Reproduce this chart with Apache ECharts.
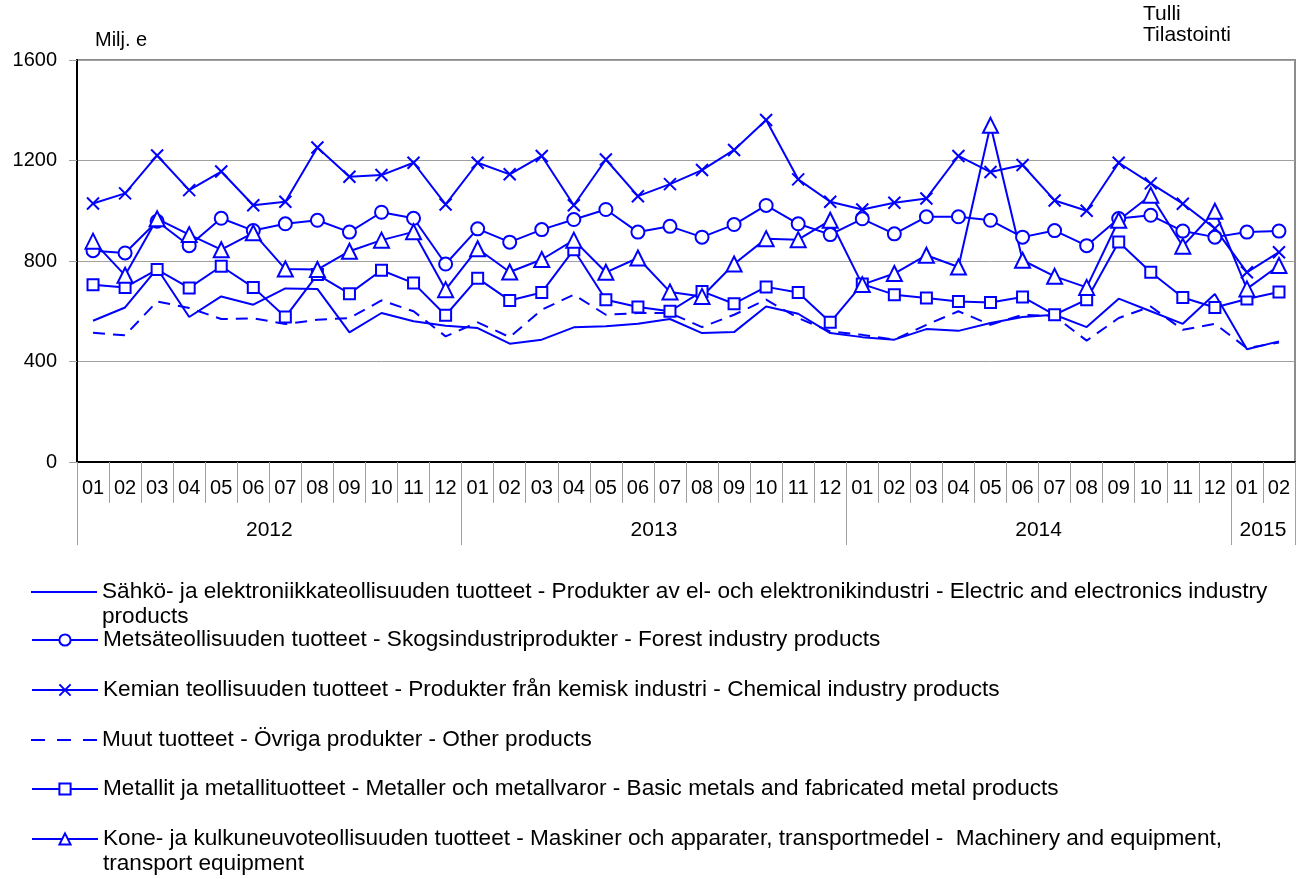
<!DOCTYPE html>
<html><head><meta charset="utf-8">
<script src="https://cdn.jsdelivr.net/npm/echarts@6/dist/echarts.min.js"></script>
<style>html,body{margin:0;padding:0;background:#fff}#c{width:1306px;height:879px}</style>
</head><body><div id="c"></div>
<script>
const months = ['01','02','03','04','05','06','07','08','09','10','11','12',
  '01','02','03','04','05','06','07','08','09','10','11','12',
  '01','02','03','04','05','06','07','08','09','10','11','12',
  '01','02'];
const years = ['2012','2013','2014','2015'];
const yearMonthCounts = [12, 12, 12, 2];
const yTicks = [0, 400, 800, 1200, 1600];

const seriesNames = [
  'Sähkö- ja elektroniikkateollisuuden tuotteet - Produkter av el- och elektronikindustri - Electric and electronics industry products',
  'Metsäteollisuuden tuotteet - Skogsindustriprodukter - Forest industry products',
  'Kemian teollisuuden tuotteet - Produkter från kemisk industri - Chemical industry products',
  'Muut tuotteet - Övriga produkter - Other products',
  'Metallit ja metallituotteet - Metaller och metallvaror - Basic metals and fabricated metal products',
  'Kone- ja kulkuneuvoteollisuuden tuotteet - Maskiner och apparater, transportmedel -  Machinery and equipment, transport equipment'
];

const electric  = [562, 615, 770, 577, 659, 626, 691, 689, 516, 593, 560, 542, 533, 471, 487, 536, 540, 550, 569, 513, 517, 619, 590, 513, 497, 487, 529, 522, 553, 577, 586, 537, 650, 600, 550, 669, 449, 480];
const forest    = [841, 832, 958, 861, 970, 921, 948, 962, 915, 994, 970, 788, 928, 875, 925, 965, 1005, 915, 938, 895, 945, 1021, 948, 905, 968, 908, 976, 976, 962, 895, 921, 861, 969, 982, 919, 895, 915, 919];
const chemical  = [1029, 1069, 1220, 1082, 1156, 1022, 1036, 1252, 1135, 1142, 1191, 1025, 1191, 1145, 1218, 1022, 1204, 1058, 1106, 1162, 1242, 1361, 1125, 1036, 1005, 1032, 1049, 1218, 1154, 1182, 1041, 1000, 1191, 1109, 1028, 930, 755, 835];
const other     = [514, 504, 639, 613, 569, 572, 549, 566, 573, 643, 600, 500, 556, 497, 606, 666, 586, 593, 593, 537, 586, 646, 573, 520, 506, 487, 546, 600, 546, 586, 580, 483, 573, 619, 526, 550, 453, 476];
const metals    = [705, 695, 766, 693, 779, 695, 577, 746, 670, 763, 712, 584, 731, 643, 675, 845, 646, 617, 600, 679, 630, 697, 675, 556, 708, 666, 653, 639, 635, 657, 586, 646, 876, 755, 655, 615, 649, 677];
const machinery = [879, 743, 968, 905, 845, 912, 768, 766, 839, 883, 916, 686, 849, 756, 806, 883, 755, 812, 677, 659, 788, 889, 885, 962, 706, 750, 823, 776, 1340, 803, 739, 695, 962, 1062, 859, 998, 689, 782];

const FONT = '"Liberation Sans", Arial, sans-serif';
const BLUE = '#0000ff';

// year axis: boundaries 0..N, labels at middle of each year span
const yearAxisData = new Array(months.length + 1).fill('');
const yearTickIdx = [0];
let acc = 0;
yearMonthCounts.forEach((n, k) => {
  yearAxisData[acc + Math.floor(n / 2)] = years[k];
  acc += n;
  yearTickIdx.push(acc);
});

const symbols = ['none', 'emptyCircle', 'path://M0,0L10,10M10,0L0,10', 'none', 'emptyRect', 'emptyTriangle'];
const symbolSizes = [0, 13, 12, 0, 11, 15];
const dataSets = [electric, forest, chemical, other, metals, machinery];
const legendCenters = [592, 640, 690, 740, 789, 839];
const wrapAt = ['electronics industry ', null, null, null, null, 'equipment, '];
const legendIcons = ['path://M0,0h66v2h-66z', null, null, 'path://M0,0h14v2h-14zM26,0h14v2h-14zM52,0h14v2h-14z', null, null];
const LH = 25;

const series = seriesNames.map((name, i) => ({
  name,
  type: 'line',
  data: dataSets[i],
  symbol: symbols[i],
  symbolSize: symbolSizes[i],
  showAllSymbol: true,
  showSymbol: symbols[i] !== 'none',
  color: BLUE,
  itemStyle: i === 2 ? { color: BLUE, borderColor: BLUE, borderWidth: 2 } : { color: BLUE, borderWidth: 1.6 },
  lineStyle: { color: BLUE, width: 2, type: i === 3 ? [12, 8] : 'solid' },
  animation: false,
  z: 3
}));

const legends = seriesNames.map((name, i) => {
  const lg = {
    data: [name],
    orient: 'vertical',
    left: 31,
    top: wrapAt[i] ? legendCenters[i] - 1.5 * LH : legendCenters[i] - LH / 2,
    padding: 0,
    itemWidth: 66,
    itemHeight: legendIcons[i] ? 2 : 14,
    itemGap: 0,
    selectedMode: false,
    formatter: function (n) {
      const w = wrapAt[i];
      if (!w) return n;
      const p = n.indexOf(w) + w.length;
      return '\n' + n.slice(0, p).trimEnd() + '\n' + n.slice(p);
    },
    textStyle: { fontFamily: FONT, fontSize: 22.6, color: '#000', lineHeight: LH }
  };
  if (legendIcons[i]) { lg.icon = legendIcons[i]; lg.itemStyle = { color: BLUE, borderWidth: 0 }; }
  return lg;
});

const chart = echarts.init(document.getElementById('c'), null, { renderer: 'canvas' });
chart.setOption({
  backgroundColor: '#fff',
  animation: false,
  title: [
    { text: 'Milj. e', left: 95, top: 30, padding: 0, textStyle: { fontFamily: FONT, fontSize: 20, fontWeight: 'normal', color: '#000', lineHeight: 20 } },
    { text: 'Tulli\nTilastointi', left: 1143, top: 4, padding: 0, textStyle: { fontFamily: FONT, fontSize: 21, fontWeight: 'normal', color: '#000', lineHeight: 21 } }
  ],
  legend: legends,
  grid: { left: 77, right: 11, top: 60, bottom: 417, show: true, borderColor: '#8c8c8c', borderWidth: 2, containLabel: false },
  xAxis: [
    {
      type: 'category', data: months, position: 'bottom', boundaryGap: true,
      axisLine: { show: true, lineStyle: { color: '#000', width: 2 } },
      axisTick: { show: true, interval: 0, length: 41, lineStyle: { color: '#a0a0a0', width: 1 } },
      axisLabel: { interval: 0, margin: 16, fontFamily: FONT, fontSize: 20, color: '#000' },
      splitLine: { show: false }
    },
    {
      type: 'category', data: yearAxisData, position: 'bottom', boundaryGap: false,
      axisLine: { show: false },
      axisTick: { show: true, length: 83, interval: (idx) => yearTickIdx.indexOf(idx) >= 0, lineStyle: { color: '#a0a0a0', width: 1 } },
      axisLabel: { interval: (idx, val) => val !== '', margin: 58, fontFamily: FONT, fontSize: 21, color: '#000', showMinLabel: true, showMaxLabel: true },
      splitLine: { show: false }
    }
  ],
  yAxis: {
    type: 'value', min: yTicks[0], max: yTicks[yTicks.length - 1], interval: yTicks[1] - yTicks[0],
    axisLine: { show: true, lineStyle: { color: '#000', width: 2 } },
    axisTick: { show: true, length: 8, lineStyle: { color: '#a0a0a0' } },
    axisLabel: { margin: 20, fontFamily: FONT, fontSize: 20, color: '#000', formatter: (v) => String(v) },
    splitLine: { show: true, lineStyle: { color: '#a0a0a0', width: 1 } }
  },
  series
});
</script></body></html>
